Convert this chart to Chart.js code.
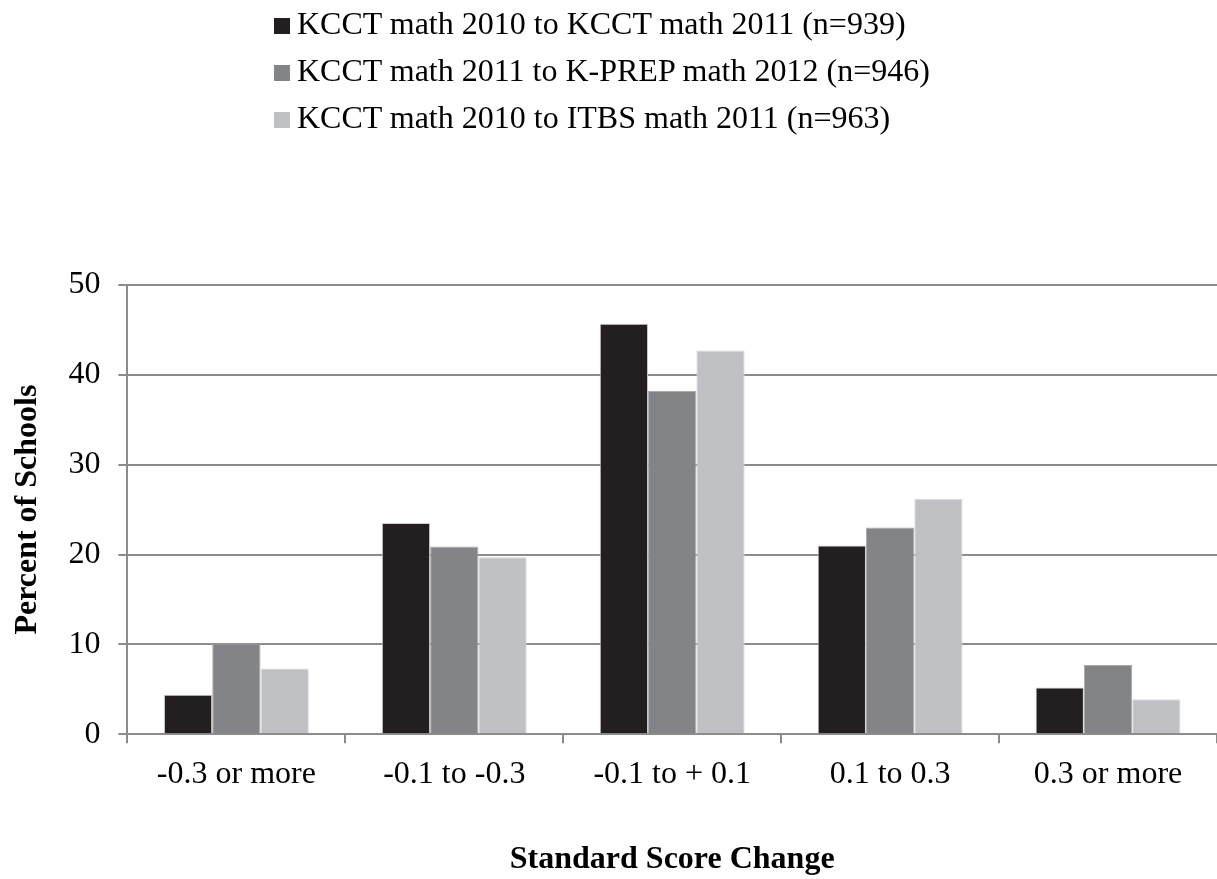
<!DOCTYPE html>
<html lang="en">
<head>
  <meta charset="UTF-8" />
  <title>Standard Score Change</title>
  <script src="https://cdn.jsdelivr.net/npm/chart.js"></script>
  <style>
    body { margin: 0; padding: 0; background: #fff; }
    .wrap { position: relative; width: 1217px; height: 879px; }
    #legend { position: absolute; left: 274px; top: 0; font-family: "Liberation Serif", "Times New Roman", serif; font-size: 32px; line-height: 47px; color: #000; }
    #legend .box { display: inline-block; width: 16px; height: 16px; margin-right: 7px; }
  </style>
</head>
<body>
  <div class="wrap">
    <canvas id="chart" width="1217" height="879"></canvas>
    <div id="legend"></div>
  </div>

  <script>
    const categories = ["-0.3 or more", "-0.1 to -0.3", "-0.1 to + 0.1", "0.1 to 0.3", "0.3 or more"];
    const seriesLabels = [
      "KCCT math 2010 to KCCT math 2011 (n=939)",
      "KCCT math 2011 to K-PREP math 2012 (n=946)",
      "KCCT math 2010 to ITBS math 2011 (n=963)"
    ];
    const kcct10to11 = [4.4, 23.5, 45.7, 21.0, 5.2];
    const kcct11toKprep12 = [10.1, 20.9, 38.2, 23.0, 7.7];
    const kcct10toItbs11 = [7.3, 19.7, 42.7, 26.2, 3.9];
    const colors = ["#231f20", "#838487", "#bfc0c3"];
    const edges = ["#cfcfcf", "#a9a9ab", "#dcdcde"];

    const serif = "'Liberation Serif', 'Times New Roman', serif";
    const grey = "#8c8c8c";

    const seriesData = [kcct10to11, kcct11toKprep12, kcct10toItbs11];

    const chart = new Chart(document.getElementById("chart").getContext("2d"), {
      type: "bar",
      data: {
        labels: categories,
        datasets: seriesData.map((d, i) => ({
          label: seriesLabels[i],
          data: d,
          backgroundColor: colors[i],
          borderColor: edges[i],
          borderWidth: 1,
          categoryPercentage: 0.665,
          barPercentage: 1
        }))
      },
      options: {
        responsive: false,
        animation: false,
        layout: { padding: { top: 285, left: 0, right: 0, bottom: 0 } },
        plugins: { legend: { display: false }, tooltip: { enabled: false } },
        scales: {
          x: {
            grid: { drawOnChartArea: false, drawTicks: true, tickLength: 9, color: grey, lineWidth: 2 },
            border: { color: grey, width: 2 },
            ticks: { color: "#000", font: { family: serif, size: 32 }, padding: 12 },
            title: {
              display: true, text: "Standard Score Change", color: "#000",
              font: { family: serif, size: 32, weight: "bold" }, padding: { top: 35, bottom: 0 }
            }
          },
          y: {
            min: 0, max: 50,
            grid: { color: grey, lineWidth: 2, tickLength: 9 },
            border: { color: grey, width: 2 },
            ticks: { stepSize: 10, color: "#000", font: { family: serif, size: 32 }, padding: 18 },
            title: {
              display: true, text: "Percent of Schools", color: "#000",
              font: { family: serif, size: 32, weight: "bold" }, padding: { top: 9, bottom: 3 }
            }
          }
        }
      }
    });

    const legend = document.getElementById("legend");
    chart.data.datasets.forEach(ds => {
      const row = document.createElement("div");
      row.innerHTML = `<span class="box" style="background:${ds.backgroundColor}"></span>${ds.label}`;
      legend.appendChild(row);
    });
  </script>
</body>
</html>
